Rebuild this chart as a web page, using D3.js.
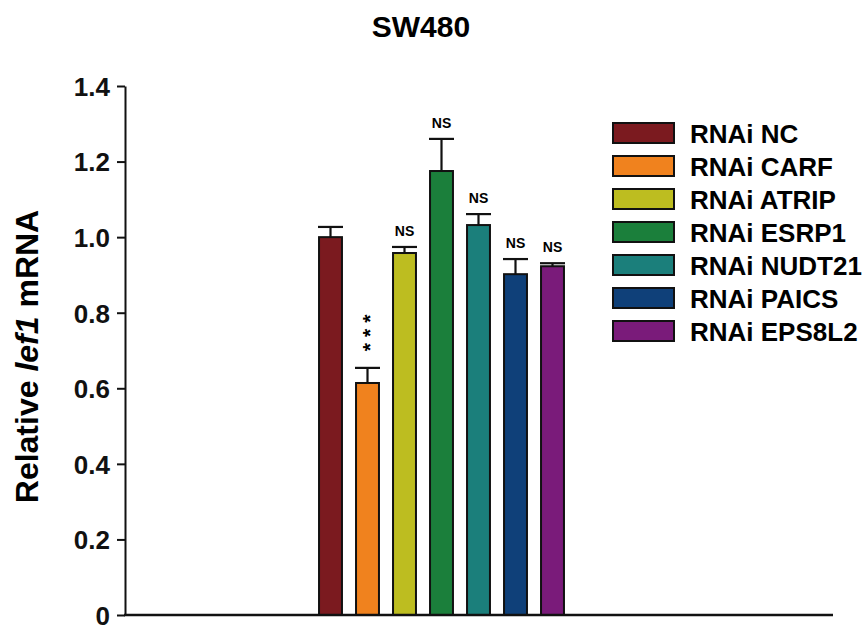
<!DOCTYPE html>
<html>
<head>
<meta charset="utf-8">
<script src="https://cdn.jsdelivr.net/npm/d3@7"></script>
<style>
  body { margin: 0; background: #fff; }
  text { font-family: Arial, "Liberation Sans", sans-serif; font-weight: bold; }
</style>
</head>
<body>
<svg id="chart" width="865" height="628"></svg>
<script>
const groups = ["RNAi NC", "RNAi CARF", "RNAi ATRIP", "RNAi ESRP1", "RNAi NUDT21", "RNAi PAICS", "RNAi EPS8L2"];
const means = [1.00, 0.614, 0.958, 1.175, 1.032, 0.902, 0.923];
const errors = [0.027, 0.04, 0.016, 0.085, 0.029, 0.04, 0.008];
const marks = ["", "***", "NS", "NS", "NS", "NS", "NS"];
const colors = ["#7b1a1f", "#f0821e", "#bdbd20", "#1b7f3b", "#1b7f7b", "#0f4079", "#7a1b7a"];
const yTicks = [0, 0.2, 0.4, 0.6, 0.8, 1.0, 1.2, 1.4];

const data = groups.map((g, i) => ({ group: g, mean: means[i], err: errors[i], mark: marks[i], color: colors[i] }));

const svg = d3.select("#chart");

const x = d3.scaleBand()
    .domain(groups)
    .range([312, 571])
    .paddingInner(0.38)
    .paddingOuter(0.19);

const y = d3.scaleLinear()
    .domain([0, 1.4])
    .range([615, 86]);

const axisX0 = 125;
const axisX1 = 833;

// title
svg.append("text")
    .attr("x", 421)
    .attr("y", 37)
    .attr("text-anchor", "middle")
    .style("font-size", "30px")
    .text("SW480");

// bars
svg.append("g").selectAll("rect")
    .data(data)
    .join("rect")
    .attr("x", d => x(d.group))
    .attr("y", d => y(d.mean))
    .attr("width", x.bandwidth())
    .attr("height", d => y(0) - y(d.mean))
    .attr("fill", d => d.color)
    .attr("stroke", "#111")
    .attr("stroke-width", 2);

// error bars (upper only)
const eb = svg.append("g").attr("stroke", "#111").attr("stroke-width", 2.2);
data.forEach(d => {
    const cx = x(d.group) + x.bandwidth() / 2;
    eb.append("line")
        .attr("x1", cx).attr("x2", cx)
        .attr("y1", y(d.mean)).attr("y2", y(d.mean + d.err));
    eb.append("line")
        .attr("x1", cx - 12.5).attr("x2", cx + 12.5)
        .attr("y1", y(d.mean + d.err)).attr("y2", y(d.mean + d.err));
});

// significance labels
data.forEach(d => {
    const cx = x(d.group) + x.bandwidth() / 2;
    const top = y(d.mean + d.err);
    if (d.mark === "NS") {
        svg.append("text")
            .attr("x", cx)
            .attr("y", top - 11)
            .attr("text-anchor", "middle")
            .style("font-size", "14px")
            .text("NS");
    } else if (d.mark === "***") {
        // stacked vertically, bottom to top
        svg.append("text")
            .attr("transform", `translate(${cx + 9},${top - 38}) rotate(-90)`)
            .attr("text-anchor", "middle")
            .style("font-size", "21px")
            .style("letter-spacing", "6px")
            .text("***");
    }
});

// axes
const yAxis = svg.append("g")
    .attr("transform", `translate(${axisX0},0)`)
    .call(d3.axisLeft(y).tickValues(yTicks).tickSize(8).tickSizeOuter(0)
        .tickFormat(d => d === 0 ? "0" : d3.format(".1f")(d)));
yAxis.select(".domain").attr("stroke", "#111").attr("stroke-width", 2);
yAxis.selectAll(".tick line").attr("stroke", "#111").attr("stroke-width", 2);
yAxis.selectAll(".tick text")
    .attr("x", -15)
    .attr("dy", "0.36em")
    .attr("fill", "#111")
    .style("font-size", "26px")
    .style("font-family", "Arial, 'Liberation Sans', sans-serif")
    .style("font-weight", "bold");

svg.append("line")
    .attr("x1", axisX0 - 1).attr("x2", axisX1)
    .attr("y1", y(0)).attr("y2", y(0))
    .attr("stroke", "#111")
    .attr("stroke-width", 2.5);

// y label
const yl = svg.append("text")
    .attr("transform", `translate(38,${y(0.7) + 6}) rotate(-90)`)
    .attr("text-anchor", "middle")
    .style("font-size", "32px");
yl.append("tspan").text("Relative ");
yl.append("tspan").style("font-style", "italic").text("lef1");
yl.append("tspan").text(" mRNA");

// legend
const legend = svg.append("g").attr("transform", "translate(613,123)");
const rows = legend.selectAll("g")
    .data(data)
    .join("g")
    .attr("transform", (d, i) => `translate(0,${i * 33})`);
rows.append("rect")
    .attr("width", 61)
    .attr("height", 20)
    .attr("fill", d => d.color)
    .attr("stroke", "#111")
    .attr("stroke-width", 2);
rows.append("text")
    .attr("x", 77)
    .attr("y", 20)
    .style("font-size", "26px")
    .text(d => d.group);
</script>
</body>
</html>
